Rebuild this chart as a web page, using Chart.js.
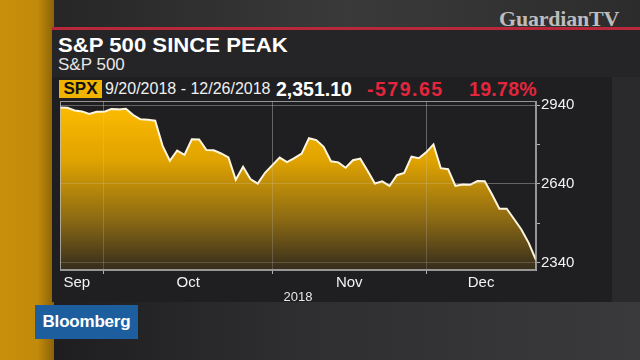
<!DOCTYPE html>
<html>
<head>
<meta charset="utf-8">
<script src="https://cdn.jsdelivr.net/npm/chart.js@4.4.1/dist/chart.umd.min.js"></script>
<style>
  html, body { margin: 0; padding: 0; }
  body {
    width: 640px; height: 360px; overflow: hidden; position: relative;
    background: linear-gradient(180deg, #2c2c2e 0%, #262628 60%, #303032 100%);
    font-family: "Liberation Sans", Arial, sans-serif;
  }
  .abs { position: absolute; white-space: nowrap; }
  #goldStrip { left: 0; top: 0; width: 54px; height: 360px;
    background: linear-gradient(90deg, #c88f0a 0%, #c18a0a 70%, #8a6208 100%); }
  #topBand { left: 54px; top: 0; width: 586px; height: 27px;
    background: linear-gradient(90deg, #262626 0%, #3a3a3a 50%, #2c2c2c 100%); }
  #redLine { left: 52px; top: 27px; width: 588px; height: 3px; background: #b8283a; }
  #panel { left: 52px; top: 30px; width: 560px; height: 272px; background: #1f1f22; }
  #titleBand { left: 52px; top: 30px; width: 588px; height: 47px; background: #252528; }
  #rightBand { left: 612px; top: 77px; width: 28px; height: 225px; background: #2a2a2c; }
  #bottomBand { left: 54px; top: 302px; width: 586px; height: 58px;
    background: linear-gradient(90deg, #1e1e20 0%, #2e2e30 40%, #3a3a3c 100%); }
  #watermark { left: 499px; top: 6px; font-family: "Liberation Serif", serif; font-weight: bold;
    font-size: 22px; color: rgba(215,215,215,0.85); letter-spacing: -0.2px; }
  #title { left: 58px; top: 33px; font-size: 20.5px; font-weight: bold; color: #ffffff;
    transform: scaleX(1.08); transform-origin: left top; }
  #subtitle { left: 58px; top: 55px; font-size: 17px; color: #e6e6e6; }
  #spx { left: 59px; top: 80px; width: 43px; height: 18px; background: #efb300; color: #111;
    font-size: 17px; font-weight: bold; line-height: 18px; text-align: center; }
  #range { left: 105px; top: 80px; font-size: 16px; color: #f0f0f0; line-height: 18px; }
  #last { left: 276px; top: 79px; font-size: 19.5px; font-weight: bold; color: #ffffff; line-height: 20px; }
  #chg { left: 367px; top: 79px; font-size: 19.5px; font-weight: bold; color: #e3263d; line-height: 20px; letter-spacing: 1.5px; }
  #pct { left: 469px; top: 79px; font-size: 19.5px; font-weight: bold; color: #e3263d; line-height: 20px; letter-spacing: 0.3px; }
  #logo { left: 35px; top: 305px; width: 103px; height: 34px; background: #1d5f9e; color: #fff;
    font-size: 17px; font-weight: bold; line-height: 34px; text-align: center; letter-spacing: -0.2px; }
  #chart { position: absolute; left: 0; top: 0; }
</style>
</head>
<body>
<div id="goldStrip" class="abs"></div>
<div id="topBand" class="abs"></div>
<div id="panel" class="abs"></div>
<div id="titleBand" class="abs"></div>
<div id="rightBand" class="abs"></div>
<div id="bottomBand" class="abs"></div>
<div id="redLine" class="abs"></div>
<div id="watermark" class="abs">GuardianTV</div>
<div id="title" class="abs">S&amp;P 500 SINCE PEAK</div>
<div id="subtitle" class="abs">S&amp;P 500</div>
<div id="spx" class="abs">SPX</div>
<div id="range" class="abs">9/20/2018 - 12/26/2018</div>
<div id="last" class="abs">2,351.10</div>
<div id="chg" class="abs">-579.65</div>
<div id="pct" class="abs">19.78%</div>
<canvas id="chart" width="640" height="360"></canvas>
<div id="logo" class="abs">Bloomberg</div>

<script>
// S&P 500 daily closes, 9/20/2018 .. 12/24/2018 (one entry per trading day)
const tradingDays = [
    '9/20', '9/21', '9/24', '9/25', '9/26', '9/27', '9/28',
    '10/1', '10/2', '10/3', '10/4', '10/5', '10/8', '10/9', '10/10', '10/11', '10/12',
    '10/15', '10/16', '10/17', '10/18', '10/19', '10/22', '10/23', '10/24', '10/25', '10/26',
    '10/29', '10/30', '10/31',
    '11/1', '11/2', '11/5', '11/6', '11/7', '11/8', '11/9', '11/12', '11/13', '11/14',
    '11/15', '11/16', '11/19', '11/20', '11/21', '11/23', '11/26', '11/27', '11/28', '11/29', '11/30',
    '12/3', '12/4', '12/6', '12/7', '12/10', '12/11', '12/12', '12/13', '12/14',
    '12/17', '12/18', '12/19', '12/20', '12/21', '12/24'
];
const closes = [
    2930.8, 2929.7, 2919.4, 2915.6, 2906.0, 2914.0, 2914.0,
    2924.6, 2923.4, 2925.5, 2901.6, 2885.6, 2884.4, 2880.3, 2785.7, 2728.4, 2767.1,
    2750.8, 2809.9, 2809.2, 2768.8, 2767.8, 2755.9, 2740.7, 2656.1, 2705.6, 2658.7,
    2641.3, 2682.6, 2711.7,
    2740.4, 2723.1, 2738.3, 2755.5, 2813.9, 2806.8, 2781.0, 2726.2, 2722.2, 2701.6,
    2730.2, 2736.3, 2690.7, 2641.9, 2649.9, 2632.6, 2673.5, 2682.2, 2743.8, 2737.8, 2760.2,
    2790.4, 2700.1, 2696.0, 2633.1, 2637.7, 2636.8, 2651.1, 2650.5, 2600.0,
    2545.9, 2546.2, 2507.0, 2467.4, 2416.6, 2351.1
];

// month separators sit on the last session of each month; labels sit between them
const monthBreaks = [6, 29, 50];
const monthNames = ['Sep', 'Oct', 'Nov', 'Dec'];
const monthLabelAt = [2.3, 17.5, 39.5, 57.5];
const yTickValues = [2340, 2490, 2640, 2790, 2940];
const yTickLabels = ['2340', '', '2640', '', '2940'];
const yMin = 2313.4;
const yMax = 2955.2;

const axisGray = 'rgba(190, 190, 190, 0.75)';
const gridGray = 'rgba(210, 210, 210, 0.22)';

// frame round the plot area, and grid lines laid over the fill like the original
const framePlugin = {
    id: 'frame',
    afterDatasetsDraw(chart) {
        chart.scales.x.drawGrid(chart.chartArea);
        chart.scales.y.drawGrid(chart.chartArea);
    },
    afterDraw(chart) {
        const a = chart.chartArea;
        const c = chart.ctx;
        c.save();
        c.strokeStyle = axisGray;
        c.lineWidth = 1;
        c.strokeRect(a.left + 0.5, a.top + 0.5, a.right - a.left - 1, a.bottom - a.top - 1);
        c.restore();
    }
};

new Chart(document.getElementById('chart'), {
    type: 'line',
    data: {
        labels: tradingDays,
        datasets: [{
            data: closes.map((v, i) => ({ x: i, y: v })),
            borderColor: '#fff6e0',
            borderWidth: 2,
            pointRadius: 0,
            tension: 0,
            fill: 'start',
            backgroundColor: (context) => {
                const area = context.chart.chartArea;
                if (!area) return '#d9a000';
                const g = context.chart.ctx.createLinearGradient(0, area.top, 0, area.bottom);
                g.addColorStop(0, '#ffbd00');
                g.addColorStop(0.35, '#e0a300');
                g.addColorStop(0.7, '#8c6a14');
                g.addColorStop(1, '#342c1c');
                return g;
            }
        }]
    },
    options: {
        responsive: false,
        animation: false,
        layout: { padding: { left: 60, top: 101, right: 0, bottom: 55 } },
        plugins: { legend: { display: false }, tooltip: { enabled: false } },
        scales: {
            x: {
                type: 'linear',
                min: 0,
                max: tradingDays.length - 1,
                afterBuildTicks: (scale) => {
                    scale.ticks = monthBreaks.concat(monthLabelAt).sort((a, b) => a - b).map(v => ({ value: v }));
                },
                afterFit: (scale) => { scale.height = 35; },
                ticks: {
                    autoSkip: false,
                    maxRotation: 0,
                    padding: 0,
                    color: '#f2f2f2',
                    font: { family: 'Liberation Sans', size: 15 },
                    callback: (value) => {
                        const k = monthLabelAt.indexOf(value);
                        return k >= 0 ? monthNames[k] : '';
                    }
                },
                grid: {
                    color: (c) => monthBreaks.includes(c.tick && c.tick.value) ? gridGray : 'rgba(0,0,0,0)',
                    tickColor: (c) => monthBreaks.includes(c.tick && c.tick.value) ? axisGray : 'rgba(0,0,0,0)',
                    tickLength: 4
                },
                border: { display: true, color: axisGray },
                title: {
                    display: true,
                    text: '2018',
                    color: '#e6e6e6',
                    font: { family: 'Liberation Sans', size: 13 },
                    padding: { top: 0, bottom: 0 }
                }
            },
            y: {
                position: 'right',
                min: yMin,
                max: yMax,
                afterBuildTicks: (scale) => {
                    scale.ticks = yTickValues.map(v => ({ value: v }));
                },
                afterFit: (scale) => { scale.width = 104; },
                ticks: {
                    padding: 1,
                    color: '#f2f2f2',
                    font: { family: 'Liberation Sans', size: 15 },
                    callback: (value) => yTickLabels[yTickValues.indexOf(value)]
                },
                grid: {
                    color: (c) => (c.tick && yTickLabels[yTickValues.indexOf(c.tick.value)]) ? gridGray : 'rgba(0,0,0,0)',
                    tickColor: axisGray,
                    tickLength: 4
                },
                border: { display: true, color: axisGray }
            }
        }
    },
    plugins: [framePlugin]
});
</script>
</body>
</html>
